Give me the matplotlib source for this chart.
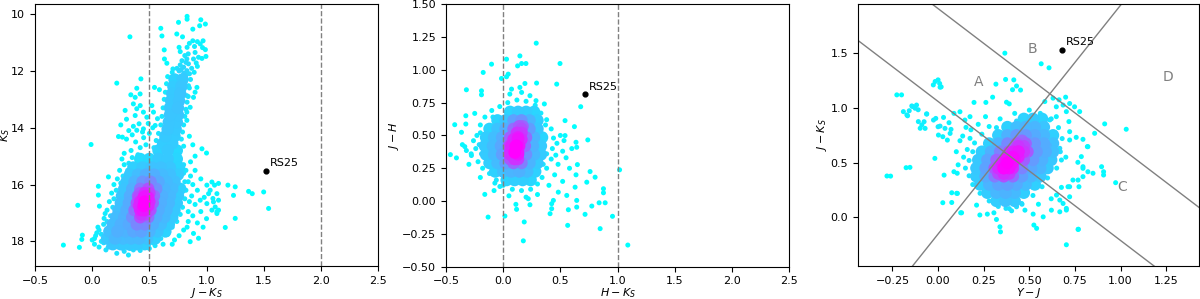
import numpy as np
import matplotlib.pyplot as plt

# --- panel 1 : Ks vs J-Ks --------------------------------------------------
# (J-Ks, Ks) pairs, dense part of the cloud
cmd_core = [
    (0.72, 12.3), (0.79, 12.3), (0.71, 12.55), (0.78, 12.55), (0.70, 12.8), (0.77, 12.8),
    (0.69, 13.05), (0.76, 13.05), (0.68, 13.3), (0.75, 13.3), (0.68, 13.55), (0.75, 13.55),
    (0.67, 13.8), (0.74, 13.8), (0.66, 14.05), (0.73, 14.05), (0.64, 14.3), (0.72, 14.3),
    (0.62, 14.55), (0.70, 14.55), (0.58, 14.8), (0.66, 14.8), (0.74, 14.8),
    (0.42, 15.1), (0.50, 15.1), (0.58, 15.1), (0.66, 15.1), (0.74, 15.1),
    (0.36, 15.4), (0.44, 15.4), (0.52, 15.4), (0.60, 15.4), (0.68, 15.4), (0.76, 15.4),
    (0.33, 15.65), (0.40, 15.65), (0.47, 15.65), (0.54, 15.65), (0.61, 15.65), (0.68, 15.65), (0.75, 15.65),
    (0.30, 15.9), (0.37, 15.9), (0.44, 15.9), (0.51, 15.9), (0.58, 15.9), (0.65, 15.9), (0.72, 15.9),
    (0.28, 16.15), (0.35, 16.15), (0.42, 16.15), (0.49, 16.15), (0.56, 16.15), (0.63, 16.15), (0.70, 16.15), (0.77, 16.15),
    (0.26, 16.4), (0.33, 16.4), (0.40, 16.4), (0.47, 16.4), (0.54, 16.4), (0.61, 16.4), (0.68, 16.4), (0.75, 16.4),
    (0.25, 16.65), (0.32, 16.65), (0.39, 16.65), (0.46, 16.65), (0.53, 16.65), (0.60, 16.65), (0.67, 16.65), (0.74, 16.65),
    (0.23, 16.9), (0.30, 16.9), (0.37, 16.9), (0.44, 16.9), (0.51, 16.9), (0.58, 16.9), (0.65, 16.9), (0.72, 16.9),
    (0.21, 17.15), (0.28, 17.15), (0.35, 17.15), (0.42, 17.15), (0.49, 17.15), (0.56, 17.15), (0.63, 17.15), (0.70, 17.15),
    (0.18, 17.4), (0.25, 17.4), (0.32, 17.4), (0.39, 17.4), (0.46, 17.4), (0.53, 17.4), (0.60, 17.4), (0.67, 17.4),
    (0.15, 17.65), (0.22, 17.65), (0.29, 17.65), (0.36, 17.65), (0.43, 17.65), (0.50, 17.65), (0.57, 17.65), (0.64, 17.65),
    (0.13, 17.9), (0.20, 17.9), (0.27, 17.9), (0.34, 17.9), (0.41, 17.9), (0.48, 17.9), (0.55, 17.9),
    (0.18, 18.1), (0.25, 18.1), (0.32, 18.1), (0.39, 18.1), (0.46, 18.1),
    (0.42, 16.3), (0.46, 16.3), (0.50, 16.3), (0.41, 16.45), (0.45, 16.45), (0.49, 16.45),
    (0.42, 16.6), (0.46, 16.6), (0.50, 16.6), (0.41, 16.75), (0.45, 16.75), (0.49, 16.75),
    (0.42, 16.9), (0.46, 16.9), (0.50, 16.9), (0.43, 17.05), (0.47, 17.05),
]
# (J-Ks, Ks) pairs, scattered stars
cmd_field = [
    (0.83, 10.18), (0.83, 10.08), (0.95, 10.2), (0.99, 10.35), (0.94, 10.41), (0.755, 10.29),
    (0.60, 10.5), (0.88, 10.53), (0.74, 10.7), (0.79, 10.8), (0.61, 10.77), (0.33, 10.8),
    (0.88, 10.94), (0.92, 10.97), (0.85, 11.03), (0.97, 10.94), (0.945, 11.05),
    (0.76, 11.17), (0.83, 11.17), (0.895, 11.14), (0.99, 11.25), (0.965, 11.18), (0.63, 11.26),
    (0.77, 11.32), (0.84, 11.4), (0.81, 11.46), (0.90, 11.35), (0.93, 11.52), (0.995, 11.49),
    (0.96, 11.56), (0.886, 11.58), (0.828, 11.58), (0.632, 11.58), (0.653, 11.73),
    (0.785, 11.64), (0.82, 11.70), (0.842, 11.75), (0.77, 11.79), (0.80, 11.87), (0.92, 11.84),
    (0.91, 11.72), (0.87, 11.91), (0.706, 11.93), (0.741, 11.91), (0.778, 11.95), (0.828, 11.99),
    (0.892, 12.05), (0.851, 12.1), (0.80, 12.08), (0.426, 12.28), (0.215, 12.43),
    (0.39, 12.61), (0.338, 12.84), (0.376, 12.93), (0.419, 12.81), (0.545, 12.58), (0.588, 12.66),
    (0.916, 12.58), (0.842, 12.52), (0.90, 12.75), (0.828, 12.87), (0.886, 12.93),
    (0.288, 13.39), (0.36, 13.16), (0.39, 13.33), (0.42, 13.22), (0.376, 13.57), (0.448, 13.45),
    (0.478, 13.63), (0.522, 13.22), (0.536, 13.45), (0.571, 13.68), (0.551, 13.92),
    (0.828, 13.45), (0.828, 13.74), (0.857, 13.28), (0.41, 13.86), (0.448, 14.04), (0.39, 14.09),
    (0.66, 12.2), (0.86, 12.3), (0.65, 12.45), (0.85, 12.6), (0.64, 12.75), (0.84, 12.9),
    (0.63, 13.0), (0.83, 13.1), (0.62, 13.3), (0.82, 13.35), (0.61, 13.6), (0.81, 13.6),
    (0.60, 13.9), (0.80, 13.9), (0.58, 14.2), (0.79, 14.15), (0.56, 14.45), (0.78, 14.4),
    (0.54, 14.7), (0.80, 14.65), (0.70, 12.05), (0.76, 12.0), (0.82, 12.15),
    (0.32, 14.1), (0.35, 14.25), (0.30, 14.4), (0.38, 14.5), (0.45, 14.35), (0.50, 14.2),
    (0.47, 14.6), (0.42, 14.7), (0.34, 14.8), (0.28, 14.9), (0.26, 15.1), (0.53, 14.0),
    (0.49, 13.85), (0.44, 14.15), (0.40, 14.95), (0.23, 14.31), (0.264, 14.33), (0.36, 13.95),
    (0.30, 13.7), (0.25, 13.9), (0.85, 14.3), (0.88, 14.6), (0.96, 14.74), (1.0, 14.89),
    (0.90, 15.0), (0.86, 15.2), (-0.01, 14.59), (0.35, 15.05), (0.32, 15.25), (0.80, 15.3),
    (0.28, 15.3), (0.24, 15.5), (0.22, 15.8), (0.142, 15.73), (0.19, 16.0), (0.054, 16.06),
    (0.17, 16.3), (0.054, 16.37), (0.15, 16.6), (-0.126, 16.73), (0.063, 16.76), (0.13, 16.9),
    (0.113, 17.02), (0.104, 17.19), (0.10, 17.4), (0.06, 17.6), (0.03, 17.8), (0.0, 17.95),
    (0.02, 18.1), (0.06, 18.2), (0.12, 18.3), (-0.086, 17.78), (-0.091, 17.93), (-0.112, 18.21),
    (-0.252, 18.13), (0.18, 18.13), (0.23, 18.19), (0.28, 18.35), (0.317, 18.48), (0.36, 18.3),
    (0.42, 18.32), (0.5, 18.25), (0.55, 18.15), (0.62, 18.1), (0.08, 18.0), (0.16, 18.05),
    (0.04, 17.7), (0.215, 18.42), (0.05, 17.5), (0.08, 17.75), (0.12, 17.85), (0.15, 17.65),
    (0.18, 17.9), (0.10, 18.05), (0.14, 18.2), (0.2, 17.55), (0.02, 17.9),
    (0.21, 16.2), (0.19, 16.5), (0.18, 16.8), (0.16, 17.1), (0.13, 17.3), (0.27, 18.25),
    (0.33, 18.25), (0.40, 18.22), (0.47, 18.2), (0.53, 18.05), (0.60, 17.9), (0.66, 17.75),
    (0.70, 17.5), (0.74, 17.3), (0.77, 17.05), (0.79, 16.8), (0.81, 16.5), (0.82, 16.2),
    (0.81, 15.9), (0.80, 15.6), (0.31, 15.5), (0.27, 15.7), (0.25, 15.95),
    (0.82, 15.5), (0.86, 15.7), (0.90, 15.5), (0.95, 15.8), (1.047, 15.91), (1.07, 16.02),
    (1.032, 16.2), (1.091, 16.32), (1.056, 16.49), (1.105, 16.55), (1.076, 16.79), (1.047, 16.9),
    (1.091, 16.96), (0.88, 16.0), (0.92, 16.2), (0.87, 16.4), (0.98, 16.45), (0.90, 16.7),
    (0.95, 16.95), (0.88, 17.1), (0.84, 17.3), (0.92, 17.35), (0.80, 17.6), (0.886, 17.72),
    (0.93, 17.89), (0.857, 18.01), (0.76, 17.8), (0.72, 17.95), (0.70, 18.1),
    (1.105, 15.96), (1.187, 16.02), (1.251, 16.08), (1.236, 16.38), (1.003, 16.67), (0.945, 16.55),
    (1.164, 17.51), (1.251, 17.19), (1.368, 16.24), (1.40, 16.32), (1.50, 16.26), (1.543, 16.84),
    (1.003, 16.02), (1.018, 16.32), (1.061, 16.61), (1.105, 16.9), (1.091, 17.02), (1.00, 17.2),
    (0.97, 17.5), (0.84, 15.9), (0.85, 16.6), (0.84, 16.95), (0.83, 17.5),
]
cmd_rs25 = (1.52, 15.52)
cmd_cuts = [0.5, 2.0]

# --- panel 2 : J-H vs H-Ks -------------------------------------------------
ccd_core = [
    (0.06, 0.68), (0.13, 0.68), (0.20, 0.68), (0.27, 0.68),
    (-0.05, 0.615), (0.02, 0.615), (0.09, 0.615), (0.16, 0.615), (0.23, 0.615), (0.30, 0.615),
    (-0.12, 0.55), (-0.05, 0.55), (0.02, 0.55), (0.09, 0.55), (0.16, 0.55), (0.23, 0.55), (0.30, 0.55),
    (-0.15, 0.485), (-0.08, 0.485), (-0.01, 0.485), (0.06, 0.485), (0.13, 0.485), (0.20, 0.485), (0.27, 0.485), (0.34, 0.485),
    (-0.16, 0.42), (-0.09, 0.42), (-0.02, 0.42), (0.05, 0.42), (0.12, 0.42), (0.19, 0.42), (0.26, 0.42), (0.33, 0.42),
    (-0.15, 0.355), (-0.08, 0.355), (-0.01, 0.355), (0.06, 0.355), (0.13, 0.355), (0.20, 0.355), (0.27, 0.355), (0.33, 0.355),
    (-0.12, 0.29), (-0.05, 0.29), (0.02, 0.29), (0.09, 0.29), (0.16, 0.29), (0.23, 0.29), (0.30, 0.29),
    (-0.07, 0.225), (0.0, 0.225), (0.07, 0.225), (0.14, 0.225), (0.21, 0.225), (0.28, 0.225),
    (0.03, 0.16), (0.10, 0.16), (0.17, 0.16), (0.24, 0.16),
    (0.06, 0.32), (0.10, 0.32), (0.13, 0.32), (0.06, 0.37), (0.10, 0.37), (0.13, 0.37),
    (0.07, 0.42), (0.11, 0.42), (0.14, 0.42), (0.09, 0.47), (0.13, 0.47), (0.16, 0.47),
    (0.12, 0.52), (0.16, 0.52), (0.14, 0.57), (0.17, 0.57),
]
ccd_field = [
    (0.289, 1.203), (0.146, 1.106), (0.029, 1.081), (0.161, 1.048), (0.199, 1.048), (0.126, 1.03),
    (-0.102, 1.043), (0.497, 1.048), (-0.175, 0.98), (0.044, 0.967), (0.029, 0.947), (-0.015, 0.934),
    (0.292, 0.899), (0.468, 0.891), (0.19, 0.896), (0.146, 0.866), (-0.322, 0.848), (-0.19, 0.84),
    (-0.19, 0.81), (0.073, 0.853), (0.058, 0.815), (0.161, 0.828), (0.234, 0.803), (0.287, 0.765),
    (0.678, 0.719), (-0.249, 0.668), (-0.424, 0.582), (-0.327, 0.65), (-0.327, 0.587), (-0.365, 0.524),
    (-0.357, 0.43), (-0.336, 0.415), (-0.322, 0.385), (-0.462, 0.354), (-0.409, 0.329), (-0.278, 0.347),
    (0.541, 0.613), (0.623, 0.567), (0.74, 0.466), (0.541, 0.499), (0.532, 0.461), (0.637, 0.448),
    (0.643, 0.41), (0.649, 0.278), (0.637, 0.2), (0.76, 0.225), (0.804, 0.182), (0.731, 0.144),
    (1.018, 0.238), (0.877, 0.094), (0.877, 0.063), (0.839, -0.013), (0.892, -0.013), (0.775, -0.038),
    (0.716, -0.101), (0.956, -0.116), (0.57, -0.066), (0.643, -0.046), (0.643, 0.005), (0.564, -0.185),
    (0.848, -0.21), (0.41, -0.096), (0.424, -0.058), (0.424, -0.02), (0.439, 0.005), (0.482, 0.068),
    (0.556, 0.043), (0.629, 0.106), (0.219, 0.018), (0.234, -0.028), (0.111, -0.025), (0.117, -0.063),
    (0.015, -0.114), (0.184, -0.159), (-0.132, -0.122), (-0.161, 0.051), (-0.073, 0.137), (-0.029, 0.111),
    (0.176, -0.303), (1.09, -0.335),
    (-0.22, 0.30), (-0.24, 0.40), (-0.23, 0.50), (-0.2, 0.58), (-0.16, 0.64), (-0.10, 0.69),
    (-0.03, 0.72), (0.04, 0.75), (0.12, 0.77), (0.2, 0.76), (0.28, 0.73), (0.33, 0.67),
    (0.38, 0.62), (0.42, 0.55), (0.44, 0.48), (0.43, 0.40), (0.42, 0.32), (0.38, 0.25),
    (0.34, 0.18), (0.30, 0.13), (0.24, 0.09), (0.16, 0.08), (0.08, 0.09), (0.0, 0.12),
    (-0.06, 0.16), (-0.12, 0.21), (-0.18, 0.25), (-0.26, 0.46), (-0.2, 0.52), (0.36, 0.74),
    (0.47, 0.44), (0.46, 0.35), (0.5, 0.5), (0.52, 0.38), (0.48, 0.28), (0.55, 0.33),
    (0.45, 0.2), (0.4, 0.12), (0.58, 0.25), (0.6, 0.4), (0.52, 0.15), (0.3, 0.05),
    (0.2, 0.03), (-0.28, 0.36), (-0.3, 0.28), (-0.2, 0.18), (-0.08, 0.08), (0.05, 0.04),
    (-0.21, 0.43), (-0.19, 0.36), (0.37, 0.58), (0.38, 0.36), (0.35, 0.28), (-0.09, 0.64),
]
ccd_rs25 = (0.716, 0.812)
ccd_cuts = [0.0, 1.0]

# --- panel 3 : J-Ks vs Y-J -------------------------------------------------
yjk_core = [
    (0.47, 0.90), (0.52, 0.90), (0.57, 0.90),
    (0.38, 0.825), (0.43, 0.825), (0.48, 0.825), (0.53, 0.825), (0.58, 0.825),
    (0.33, 0.75), (0.38, 0.75), (0.43, 0.75), (0.48, 0.75), (0.53, 0.75), (0.58, 0.75), (0.63, 0.75),
    (0.28, 0.675), (0.33, 0.675), (0.38, 0.675), (0.43, 0.675), (0.48, 0.675), (0.53, 0.675), (0.58, 0.675), (0.63, 0.675),
    (0.24, 0.60), (0.29, 0.60), (0.34, 0.60), (0.39, 0.60), (0.44, 0.60), (0.49, 0.60), (0.54, 0.60), (0.59, 0.60), (0.63, 0.60),
    (0.22, 0.525), (0.27, 0.525), (0.32, 0.525), (0.37, 0.525), (0.42, 0.525), (0.47, 0.525), (0.52, 0.525), (0.57, 0.525), (0.62, 0.525),
    (0.21, 0.45), (0.26, 0.45), (0.31, 0.45), (0.36, 0.45), (0.41, 0.45), (0.46, 0.45), (0.51, 0.45), (0.56, 0.45), (0.60, 0.45),
    (0.21, 0.375), (0.26, 0.375), (0.31, 0.375), (0.36, 0.375), (0.41, 0.375), (0.46, 0.375), (0.51, 0.375), (0.56, 0.375),
    (0.23, 0.30), (0.28, 0.30), (0.33, 0.30), (0.38, 0.30), (0.43, 0.30), (0.48, 0.30), (0.53, 0.30),
    (0.27, 0.225), (0.32, 0.225), (0.37, 0.225), (0.42, 0.225), (0.47, 0.225),
    (0.32, 0.15), (0.37, 0.15), (0.42, 0.15),
    (0.33, 0.40), (0.36, 0.40), (0.39, 0.40), (0.33, 0.45), (0.36, 0.45), (0.39, 0.45),
    (0.35, 0.50), (0.38, 0.50), (0.41, 0.50), (0.38, 0.55), (0.41, 0.55), (0.44, 0.55),
    (0.41, 0.60), (0.44, 0.60), (0.47, 0.60), (0.44, 0.65), (0.47, 0.65), (0.46, 0.70),
]
yjk_field = [
    (0.366, 1.5), (0.565, 1.403), (0.608, 1.366), (0.0, 1.256), (0.0087, 1.223), (0.017, 1.192),
    (0.317, 1.217), (0.37, 1.26), (0.415, 1.256), (0.43, 1.2), (0.452, 1.163), (0.408, 1.166),
    (-0.2, 1.119), (0.299, 1.098), (0.197, 1.05), (0.262, 1.05), (0.375, 1.052), (0.39, 1.037),
    (0.699, 1.098), (-0.158, 0.974), (-0.14, 1.013), (-0.109, 0.983), (-0.118, 1.026), (-0.167, 0.928),
    (-0.063, 0.944), (-0.025, 0.889), (-0.0125, 0.904), (-0.0765, 0.874), (-0.071, 0.813), (0.0, 0.828),
    (0.03, 0.913), (0.06, 0.865), (0.011, 0.834), (0.038, 0.813), (0.071, 0.804), (0.002, 0.752),
    (0.026, 0.737), (0.066, 0.767), (0.051, 0.706), (0.087, 0.95), (0.12, 0.965), (0.147, 0.889),
    (0.175, 0.92), (0.153, 0.822), (0.135, 0.743), (0.175, 0.722), (-0.0175, 0.539), (-0.154, 0.457),
    (-0.26, 0.377), (0.033, 0.386), (0.106, 0.219), (0.075, 0.136), (0.124, 0.042), (0.211, 0.112),
    (0.229, 0.022), (0.27, 0.03), (0.306, 0.042), (0.32, -0.019), (0.339, -0.086), (0.342, -0.132),
    (0.372, 0.082), (0.403, 0.06), (0.43, 0.097), (0.458, 0.127), (0.476, 0.066), (0.521, 0.03),
    (0.576, 0.005), (0.621, 0.066), (0.667, 0.051), (0.703, 0.082), (0.525, -0.07), (0.54, -0.1),
    (0.703, -0.25), (0.769, -0.108), (0.667, 0.158), (0.685, 0.127), (0.721, 0.188), (0.676, 0.274),
    (0.712, 0.28), (0.739, 0.341), (0.794, 0.372), (0.821, 0.417), (0.794, 0.463), (0.766, 0.503),
    (0.785, 0.555), (0.821, 0.646), (0.794, 0.713), (0.757, 0.731), (0.721, 0.707), (0.721, 0.783),
    (0.717, 0.875), (0.776, 0.966), (0.748, 1.01), (0.703, 0.966), (0.648, 1.01), (0.685, 1.026),
    (0.721, 1.04), (0.648, 0.92), (0.612, 0.89), (0.585, 1.058), (0.63, 1.089), (0.663, 1.074),
    (0.858, 0.768), (0.913, 0.854), (1.031, 0.805), (0.896, 0.463), (0.907, 0.417), (0.907, 0.387),
    (0.973, 0.317), (0.818, 0.646), (0.849, 0.403), (0.794, 0.448), (0.767, 0.341), (0.721, 0.28),
    (0.772, 0.28), (0.667, 0.631), (0.676, 0.524), (0.649, 0.204), (0.703, 0.067), (0.767, -0.11),
    (-0.226, 1.119), (-0.28, 0.378), (-0.175, 0.454), (-0.144, 1.018), (-0.126, 0.997), (-0.19, 0.966),
    (-0.171, 0.936), (-0.108, 0.875), (-0.098, 0.814), (-0.089, 0.845), (-0.062, 0.945), (-0.026, 1.21),
    (-0.016, 1.241), (0.011, 1.189), (0.087, 0.417), (0.105, 0.403), (0.102, 0.22), (0.129, 0.042),
    (0.026, 0.134), (0.075, 0.225),
    (0.15, 0.45), (0.14, 0.55), (0.17, 0.38), (0.16, 0.62), (0.19, 0.30), (0.20, 0.68),
    (0.23, 0.22), (0.24, 0.76), (0.28, 0.15), (0.28, 0.83), (0.33, 0.10), (0.34, 0.9),
    (0.39, 0.08), (0.42, 0.95), (0.46, 0.12), (0.5, 0.98), (0.52, 0.2), (0.56, 0.95),
    (0.57, 0.28), (0.62, 0.9), (0.6, 0.36), (0.66, 0.82), (0.65, 0.45), (0.68, 0.72),
    (0.67, 0.6), (0.70, 0.55), (0.62, 0.17), (0.55, 0.12), (0.22, 0.85), (0.26, 0.92),
    (0.18, 0.8), (0.12, 0.7), (0.1, 0.6), (0.11, 0.48),
    (0.17, 0.52), (0.19, 0.60), (0.58, 0.38), (0.61, 0.66), (0.43, 0.88), (0.32, 0.82),
]
yjk_rs25 = (0.68, 1.53)
# boundary lines: slope, intercept
yjk_slopes = [-1.27, -1.27, 2.09]
yjk_intercepts = [1.059, 1.907, -0.152]
yjk_regions = ["A", "B", "C", "D"]
yjk_region_pos = [(0.22, 1.24), (0.517, 1.537), (1.009, 0.28), (1.258, 1.286)]


def kde_density(x, y, w, factor=0.22):
    """gaussian kde evaluated at the points themselves"""
    xy = np.vstack([x, y])
    cov = np.cov(xy, aweights=w) * factor ** 2
    inv = np.linalg.inv(cov)
    d = xy[:, :, None] - xy[:, None, :]
    m = np.einsum("inm,ij,jnm->nm", d, inv, d)
    return (np.exp(-0.5 * m) * w[None, :]).sum(axis=1)


def draw_cloud(ax, core, field):
    core = np.array(core)
    field = np.array(field)
    x = np.concatenate([core[:, 0], field[:, 0]])
    y = np.concatenate([core[:, 1], field[:, 1]])
    w = np.concatenate([np.full(len(core), 4.0), np.ones(len(field))])
    s = np.concatenate([np.full(len(core), 80.0), np.full(len(field), 13.0)])
    dens = kde_density(x, y, w)
    dens = (dens - dens.min()) / (dens.max() - dens.min())
    dens = dens ** 1.3
    order = np.argsort(dens)
    ax.scatter(x[order], y[order], c=dens[order], s=s[order], cmap="cool",
               vmin=0, vmax=1, linewidths=0)


def mark_rs25(ax, pos):
    ax.scatter([pos[0]], [pos[1]], s=12, color="black", zorder=5)
    ax.annotate("RS25", pos, xytext=(3, 2), textcoords="offset points",
                fontsize=8, ha="left", va="bottom")


plt.rcParams["font.size"] = 8
fig = plt.figure(figsize=(12, 2.99), dpi=100)
ax1 = fig.add_axes([0.0292, 0.110, 0.2858, 0.878])
ax2 = fig.add_axes([0.3717, 0.108, 0.2858, 0.878])
ax3 = fig.add_axes([0.7148, 0.110, 0.2844, 0.877])

draw_cloud(ax1, cmd_core, cmd_field)
for xc in cmd_cuts:
    ax1.axvline(xc, color="gray", ls="--", lw=1)
mark_rs25(ax1, cmd_rs25)
ax1.set_xlim(-0.5, 2.5)
ax1.set_ylim(18.87, 9.63)
ax1.set_xticks(np.arange(-0.5, 2.51, 0.5))
ax1.set_yticks([10, 12, 14, 16, 18])
ax1.set_xlabel("$J-K_S$", labelpad=0)
ax1.set_ylabel("$K_S$")
ax1.yaxis.set_label_coords(-0.066, 0.5)

draw_cloud(ax2, ccd_core, ccd_field)
for xc in ccd_cuts:
    ax2.axvline(xc, color="gray", ls="--", lw=1)
mark_rs25(ax2, ccd_rs25)
ax2.set_xlim(-0.5, 2.5)
ax2.set_ylim(-0.5, 1.5)
ax2.set_xticks(np.arange(-0.5, 2.51, 0.5))
ax2.set_yticks(np.arange(-0.5, 1.51, 0.25))
ax2.set_xlabel("$H-K_S$", labelpad=0)
ax2.set_ylabel("$J-H$", labelpad=1)

draw_cloud(ax3, yjk_core, yjk_field)
for m, b in zip(yjk_slopes, yjk_intercepts):
    ax3.axline((0, b), slope=m, color="gray", lw=1)
for lab, (xp, yp) in zip(yjk_regions, yjk_region_pos):
    ax3.text(xp, yp, lab, color="gray", fontsize=10, ha="center", va="center")
mark_rs25(ax3, yjk_rs25)
ax3.set_xlim(-0.44, 1.43)
ax3.set_ylim(-0.445, 1.95)
ax3.set_xticks(np.arange(-0.25, 1.26, 0.25))
ax3.set_yticks([0.0, 0.5, 1.0, 1.5])
ax3.set_xlabel("$Y-J$", labelpad=0)
ax3.set_ylabel("$J-K_S$", labelpad=1)

fig.savefig("out.png", dpi=100)
